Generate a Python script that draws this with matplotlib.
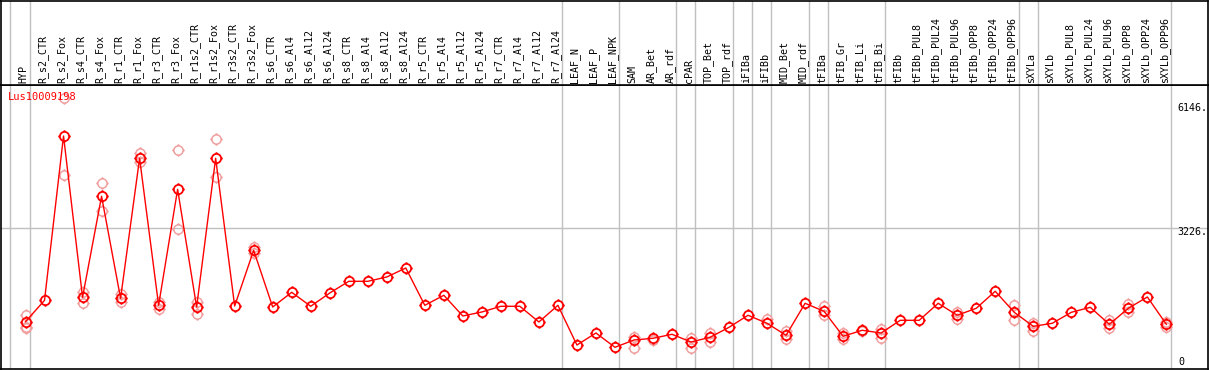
import matplotlib
matplotlib.use("Agg")
import matplotlib.pyplot as plt
from matplotlib.path import Path

# --- dados ---
labels = ["HYP", "R_s2_CTR", "R_s2_Fox", "R_s4_CTR", "R_s4_Fox", "R_r1_CTR", "R_r1_Fox",
          "R_r3_CTR", "R_r3_Fox", "R_r1s2_CTR", "R_r1s2_Fox", "R_r3s2_CTR", "R_r3s2_Fox",
          "R_s6_CTR", "R_s6_Al4", "R_s6_Al12", "R_s6_Al24", "R_s8_CTR", "R_s8_Al4", "R_s8_Al12",
          "R_s8_Al24", "R_r5_CTR", "R_r5_Al4", "R_r5_Al12", "R_r5_Al24", "R_r7_CTR", "R_r7_Al4",
          "R_r7_Al12", "R_r7_Al24", "LEAF_N", "LEAF_P", "LEAF_NPK", "SAM", "AR_Bet", "AR_rdf",
          "cPAR", "TOP_Bet", "TOP_rdf", "iFIBa", "iFIBb", "MID_Bet", "MID_rdf", "tFIBa",
          "tFIB_Gr", "tFIB_Li", "tFIB_Bi", "tFIBb", "tFIBb_PUL8", "tFIBb_PUL24", "tFIBb_PUL96",
          "tFIBb_OPP8", "tFIBb_OPP24", "tFIBb_OPP96", "sXYLa", "sXYLb", "sXYLb_PUL8",
          "sXYLb_PUL24", "sXYLb_PUL96", "sXYLb_OPP8", "sXYLb_OPP24", "sXYLb_OPP96"]

# tamanho de cada grupo (linhas verticais cinzas entre grupos)
group_sizes = [1, 28, 3, 3, 1, 2, 1, 1, 2, 1, 3, 7, 1, 7]

mean_values = [1121, 1601, 5292, 1669, 3937, 1646, 4791, 1489, 4094, 1451, 4791, 1473, 2724,
               1451, 1781, 1467, 1765, 2028, 2028, 2125, 2327, 1489, 1714, 1249, 1339, 1467,
               1467, 1114, 1489, 597, 867, 546, 710, 748, 838, 665, 770, 995, 1265, 1085, 815,
               1534, 1354, 793, 928, 867, 1152, 1152, 1534, 1265, 1422, 1804, 1332, 1017, 1085,
               1332, 1444, 1062, 1422, 1676, 1062]

replicates = [[1271, 1008, 973], [], [4409, 6146], [1781, 1548], [4229, 3607], [1736, 1570],
              [4903, 4714], [1556, 1406], [4970, 3203], [1556, 1300], [5218, 4364], [],
              [2805, 2657], [], [], [], [], [], [], [], [], [], [], [], [], [], [], [], [],
              [], [], [], [784, 530], [710], [], [748, 530], [860, 665], [], [], [1175],
              [905, 725], [], [1473, 1265], [860, 725], [905], [950, 748], [], [], [],
              [1345, 1188], [], [], [1496, 1166], [1085, 919], [], [], [], [1159, 973],
              [1512, 1339], [], [1107, 995]]

ref_value = 3226
max_value = 6146
gene = "Lus10009198"

# --- estilo ---
mono = "DejaVu Sans Mono"
fs = 7.2
W, H = 1209, 370

# marcador: circulo com 4 tracinhos
circ = Path.circle((0, 0), 1.0)
ticks = Path([(0, 1), (0, 1.35), (0, -1), (0, -1.35), (1, 0), (1.35, 0), (-1, 0), (-1.35, 0)],
             [Path.MOVETO, Path.LINETO] * 4)
marker = Path.make_compound_path(circ, ticks)

fig = plt.figure(figsize=(W / 100, H / 100), dpi=100)
ax = fig.add_axes([0.5 / W, 1 / H, (W - 1.5) / W, 284 / H])
axh = fig.add_axes([0.5 / W, 285 / H, (W - 1.5) / W, 84.5 / H], sharex=ax)

x = list(range(len(labels)))
xlim = (-1.315, 62.19)
ax.set_xlim(xlim)
ax.set_ylim(58.4, 6437.5)
axh.set_ylim(0, 1)

# linhas de grupo
bounds = [-1]
acc = -1
for g in group_sizes:
    acc += g
    bounds.append(acc)
for b in bounds:
    xb = b + 0.226 if b >= 0 else -0.826
    ax.axvline(xb, color="#c0c0c0", lw=1, zorder=1)
    axh.axvline(xb, color="#c0c0c0", lw=1, zorder=1)
ax.axhline(ref_value, color="#c0c0c0", lw=1, zorder=1)

# replicatas
for i, reps in enumerate(replicates):
    for v in reps:
        ax.plot(i, v, marker=marker, ms=9, mfc="none", mec="#f0a0a0", mew=1.1,
                ls="none", zorder=2)

# media
ax.plot(x, mean_values, color="#ff0000", lw=1, marker=marker, ms=9, mfc="none",
        mec="#ff0000", mew=1.3, zorder=3)

# rotulos das colunas
for i, lab in enumerate(labels):
    axh.text(i - 0.1, 0.02, lab, rotation=90, ha="center", va="bottom",
             fontsize=fs, family=mono)

# titulo e escala
ax.text(7 / 1207, 0.958, gene, transform=ax.transAxes, color="#ff0000",
        fontsize=fs + 0.3, family=mono, va="center", ha="left")
ax.annotate(f"{max_value}.", xy=(60.56, max_value), xytext=(0, -7.2),
            textcoords="offset points", fontsize=fs, family=mono, va="center")
ax.annotate(f"{ref_value}.", xy=(60.56, ref_value), xytext=(0, -3.2),
            textcoords="offset points", fontsize=fs, family=mono, va="center")
ax.annotate("0", xy=(60.65, 58.4), xytext=(0, 4.7),
            textcoords="offset points", fontsize=fs, family=mono, va="center")

for a in (ax, axh):
    a.set_xticks([])
    a.set_yticks([])
    for s in a.spines.values():
        s.set_color("black")
        s.set_linewidth(1.2)

fig.savefig("out.png", dpi=100)
